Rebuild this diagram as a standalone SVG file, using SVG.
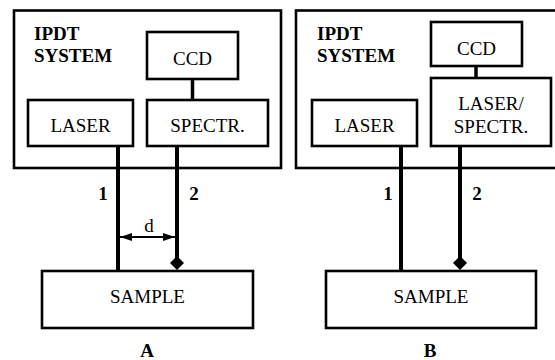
<svg xmlns="http://www.w3.org/2000/svg" width="555" height="360" viewBox="0 0 555 360" font-family="'Liberation Serif', 'Times New Roman', 'DejaVu Serif', serif" font-size="19">
  <style>
    .frame { fill: #fff; stroke: #000; stroke-width: 2.6; }
    .box { fill: #fff; stroke: #000; stroke-width: 2.6; }
    .fiber { stroke: #000; stroke-width: 4; fill: none; }
    .link { stroke: #000; stroke-width: 3.5; fill: none; }
    .dim { stroke: #000; stroke-width: 2; fill: none; }
    .tip { fill: #000; stroke: none; }
    text { font-family: 'Liberation Serif', 'Times New Roman', serif; font-size: 19px; fill: #000; }
    .c { text-anchor: middle; }
    .b { font-weight: bold; }
  </style>
  <defs>
    <marker id="arrow" viewBox="0 0 12 8" refX="12" refY="4" markerWidth="12" markerHeight="8" markerUnits="userSpaceOnUse" orient="auto-start-reverse">
      <path d="M0,0 L12,4 L0,8 Z" fill="#000"/>
    </marker>
  </defs>
  <rect width="555" height="360" fill="#fff"/>

  <!-- Panel A: system frame -->
  <g id="systemA">
    <rect class="frame" x="14" y="10.5" width="267" height="157.5"/>
    <text class="b" x="34" y="40">IPDT</text>
    <text class="b" x="34" y="62">SYSTEM</text>
  </g>
  <g id="ccdA">
    <rect class="box" x="147" y="32" width="91" height="47"/>
    <text class="c" x="192.5" y="65">CCD</text>
  </g>
  <g id="laserA">
    <rect class="box" x="28" y="100" width="105" height="46"/>
    <text class="c" x="80.5" y="132">LASER</text>
  </g>
  <g id="spectrA">
    <rect class="box" x="147" y="100" width="121" height="46"/>
    <text class="c" x="207.5" y="132">SPECTR.</text>
  </g>
  <g id="sampleA">
    <rect class="box" x="42" y="271" width="211" height="57"/>
    <text class="c" x="147.5" y="303">SAMPLE</text>
  </g>

  <!-- Panel B: system frame -->
  <g id="systemB">
    <rect class="frame" x="296" y="10.5" width="270" height="157.5"/>
    <text class="b" x="317" y="40">IPDT</text>
    <text class="b" x="317" y="62">SYSTEM</text>
  </g>
  <g id="ccdB">
    <rect class="box" x="431" y="22" width="91" height="44"/>
    <text class="c" x="476.5" y="55">CCD</text>
  </g>
  <g id="laserB">
    <rect class="box" x="312" y="100" width="105" height="46"/>
    <text class="c" x="364.5" y="132">LASER</text>
  </g>
  <g id="laserSpectrB">
    <rect class="box" x="431" y="78" width="120" height="68"/>
    <text class="c" x="491" y="110">LASER/</text>
    <text class="c" x="491" y="133">SPECTR.</text>
  </g>
  <g id="sampleB">
    <rect class="box" x="326" y="271" width="210" height="57"/>
    <text class="c" x="431" y="303">SAMPLE</text>
  </g>

  <!-- Connectors: internal links and fibers -->
  <g id="connectors">
    <line class="link" x1="192.5" y1="80" x2="192.5" y2="99"/>
    <line class="link" x1="476" y1="67" x2="476" y2="77"/>

    <line class="fiber" x1="118" y1="147" x2="118" y2="270"/>
    <line class="fiber" x1="177" y1="147" x2="177" y2="258"/>
    <polygon class="tip" points="177,256 184,263 177,270 170,263"/>

    <line class="fiber" x1="401" y1="147" x2="401" y2="270"/>
    <line class="fiber" x1="460" y1="147" x2="460" y2="258"/>
    <polygon class="tip" points="460,256 467,263 460,270 453,263"/>

    <line class="dim" x1="120" y1="237" x2="175" y2="237" marker-start="url(#arrow)" marker-end="url(#arrow)"/>
  </g>

  <!-- Labels -->
  <text class="c b" x="103" y="200">1</text>
  <text class="c b" x="194" y="200">2</text>
  <text class="c" x="149" y="232">d</text>
  <text class="c b" x="388" y="200">1</text>
  <text class="c b" x="477" y="200">2</text>
  <text class="c b" x="147" y="357">A</text>
  <text class="c b" x="430" y="357">B</text>
</svg>
